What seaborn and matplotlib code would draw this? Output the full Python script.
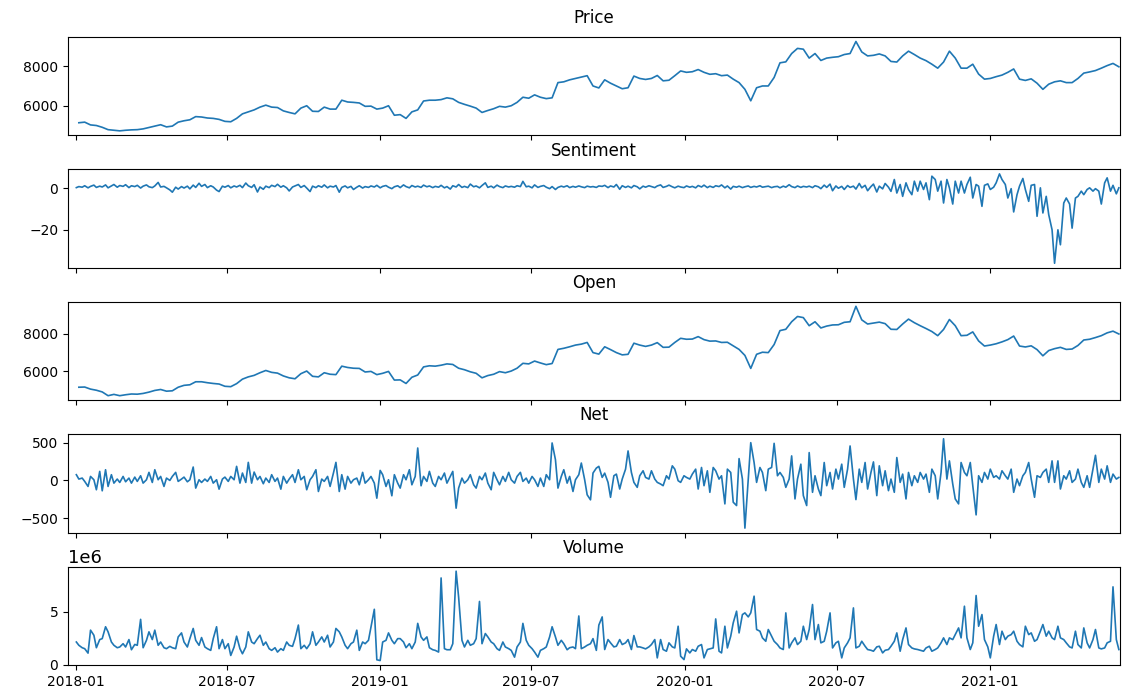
import numpy as np
import pandas as pd
import matplotlib
matplotlib.use("Agg")
import matplotlib.pyplot as plt
import matplotlib.dates as mdates
import seaborn as sns

# Weekly closing values (Fridays)
weekly_dates = pd.date_range("2018-01-05", "2021-06-04", freq="W-FRI")

price = [
    5140, 5170, 5030, 5000, 4910, 4790, 4760, 4730, 4760, 4780,
    4790, 4830, 4900, 4970, 5040, 4930, 4970, 5170, 5240, 5290,
    5450, 5430, 5380, 5360, 5310, 5210, 5190, 5360, 5590, 5690,
    5790, 5930, 6030, 5930, 5910, 5740, 5660, 5590, 5880, 6000,
    5720, 5710, 5930, 5830, 5830, 6280, 6190, 6170, 6140, 5970,
    5980, 5830, 5880, 6000, 5520, 5550, 5360, 5690, 5790, 6240,
    6280, 6280, 6310, 6400, 6350, 6170, 6070, 5980, 5880, 5660,
    5760, 5850, 5970, 5930, 6000, 6170, 6430, 6380, 6550, 6430,
    6360, 6400, 7170, 7210, 7310, 7380, 7450, 7520, 7000, 6900,
    7310, 7140, 7000, 6860, 6910, 7500, 7380, 7330, 7380, 7530,
    7260, 7290, 7520, 7760, 7690, 7720, 7830, 7690, 7590, 7620,
    7520, 7550, 7345, 7170, 6830, 6250, 6910, 7000, 7000, 7430,
    8170, 8220, 8640, 8900, 8860, 8410, 8640, 8290, 8410, 8450,
    8480, 8590, 8640, 9250, 8720, 8520, 8550, 8620, 8520, 8240,
    8210, 8520, 8760, 8590, 8410, 8280, 8100, 7900, 8210, 8760,
    8410, 7900, 7900, 8100, 7600, 7345, 7380, 7470, 7550, 7690,
    7860, 7345, 7280, 7360, 7140, 6830, 7090, 7210, 7260, 7170,
    7170, 7380, 7650, 7710, 7780, 7900, 8030, 8140, 7970,
]

open_ = [
    5150, 5160, 5050, 4990, 4900, 4700, 4770, 4700, 4750, 4790,
    4780, 4820, 4890, 4980, 5030, 4940, 4960, 5150, 5250, 5280,
    5440, 5440, 5390, 5350, 5320, 5200, 5180, 5340, 5580, 5700,
    5780, 5920, 6040, 5940, 5900, 5750, 5650, 5600, 5870, 6010,
    5730, 5700, 5920, 5840, 5820, 6270, 6200, 6160, 6150, 5960,
    5990, 5820, 5890, 5990, 5530, 5540, 5350, 5680, 5800, 6230,
    6290, 6270, 6320, 6390, 6360, 6160, 6080, 5970, 5890, 5650,
    5770, 5840, 5980, 5920, 6010, 6160, 6420, 6390, 6540, 6440,
    6350, 6410, 7160, 7220, 7300, 7390, 7440, 7530, 6990, 6910,
    7300, 7150, 6990, 6870, 6900, 7490, 7390, 7320, 7390, 7520,
    7270, 7280, 7530, 7750, 7700, 7710, 7840, 7680, 7600, 7610,
    7530, 7540, 7350, 7160, 6840, 6150, 6900, 7010, 6990, 7420,
    8160, 8230, 8630, 8910, 8850, 8420, 8630, 8300, 8400, 8460,
    8470, 8600, 8630, 9450, 8730, 8510, 8560, 8610, 8530, 8230,
    8220, 8510, 8770, 8580, 8420, 8270, 8110, 7890, 8220, 8750,
    8420, 7890, 7910, 8090, 7610, 7340, 7390, 7460, 7560, 7680,
    7870, 7340, 7290, 7350, 7150, 6820, 7100, 7200, 7270, 7160,
    7180, 7370, 7660, 7700, 7790, 7890, 8040, 8130, 7980,
]

# Twice-weekly observations (Tuesdays and Fridays)
halfweek_dates = pd.date_range("2018-01-02", "2021-06-04", freq="W-TUE").union(
    pd.date_range("2018-01-02", "2021-06-04", freq="W-FRI"))

sentiment = [
    0.3, 0.8, 0.5, 1.2, 0.2, 0.9, 1.5, 0.4, 1.0, 0.6,
    1.6, 0.2, 1.1, 1.8, 0.5, 1.3, 0.9, 1.7, 0.3, 1.2,
    0.8, 1.4, 0.1, 1.0, 1.6, 0.7, 0.3, 1.1, 2.8, 0.6,
    0.9, 0.2, -0.8, -1.9, 0.5, -0.4, 0.8, 0.1, 1.0, -0.3,
    1.5, 0.4, 2.4, 0.9, 1.8, 0.3, 1.2, 0.6, -0.9, -1.6,
    1.0, 0.5, 1.3, 0.2, 1.1, 0.6, 1.4, 0.3, 2.5, 1.2,
    0.4, 1.7, -1.8, 0.6, -0.5, 1.0, 0.3, 1.4, 0.8, 1.9,
    0.5, 1.2, 0.2, -1.3, 0.6, 1.1, 1.8, 0.4, 1.3, 0.1,
    -1.6, 1.0, 0.3, 1.2, 0.5, 1.6, 0.2, 1.0, 0.6, 1.3,
    -1.9, 0.4, 1.1, 0.2, 0.9, -0.6, 0.5, 1.2, 0.1, 0.8,
    0.4, 1.1, 0.6, 1.4, 0.2, 0.9, 1.3, 0.5, -0.2, 0.7,
    1.2, 0.3, 1.6, 0.8, 0.2, 1.3, 0.6, 1.0, 0.4, 1.5,
    0.7, 1.1, 0.3, 0.9, 0.5, 1.4, 0.2, 0.8, -0.4, 1.2,
    0.6, 1.8, 0.4, 0.9, 0.3, 2.0, 0.7, 1.1, 0.2, 1.3,
    2.6, 0.4, 1.0, 0.2, 1.5, 0.8, 0.3, 1.1, 0.6, 0.9,
    0.5, 1.2, 0.8, 3.3, 0.7, 1.0, 0.2, 1.6, 0.4, 0.9,
    1.3, 0.5, -0.2, 0.8, -0.6, 0.4, 1.0, 0.6, 1.2, 0.3,
    0.9, 0.5, 1.1, 0.7, 0.3, 1.0, 0.6, 0.8, 0.4, 1.1,
    0.9, 1.4, 0.3, 1.1, 0.6, 1.8, -0.5, 1.2, 0.4, 1.0,
    0.2, 1.3, 0.7, -0.3, 1.0, 0.5, 1.2, 0.8, 0.3, 1.1,
    1.6, 0.4, 0.9, 1.5, 0.7, 0.2, 1.0, 0.6, 0.3, 1.1,
    0.5, 0.9, 0.2, 1.3, 0.6, 1.5, 0.3, 1.0, 0.4, 1.2,
    0.8, 1.6, 0.2, 1.1, -0.4, 0.9, 0.5, 1.0, 0.3, 0.7,
    1.1, 0.4, 0.9, 0.6, 1.2, 0.5, 0.8, 1.0, 0.3, 0.7,
    0.9, 0.2, 1.0, 0.5, 1.7, 0.8, 0.3, 1.1, 0.4, 0.9,
    0.6, 1.0, 0.3, 1.2, 0.7, -0.2, 1.5, 0.4, 2.0, -1.2,
    1.1, 0.0, 0.9, -0.6, 1.3, 0.4, 1.0, -0.4, 2.3, 0.2,
    1.4, -1.2, 0.8, 2.0, -1.8, 1.0, -0.3, 2.3, 0.5, -1.5,
    4.2, -2.3, 1.8, -3.9, 2.6, -0.6, -3.1, 3.4, -1.4, 3.4,
    -0.6, 2.6, -5.5, 5.8, 4.2, -1.4, 3.4, -7.1, 4.2, 0.2,
    -7.6, 3.4, -2.3, 3.4, -2.3, 1.8, 5.3, -4.7, 1.8, 1.0,
    -8.7, 1.4, 2.1, -0.6, 0.5, 2.6, 6.9, 4.2, 1.8, -4.7,
    -0.2, -11.4, -3.1, 1.0, 4.7, -0.6, -6.3, 1.4, 1.8, -13.5,
    0.2, -11.9, -3.9, -12.7, -20.0, -36.1, -20.0, -27.2, -7.1, -4.7,
    -7.6, -19.2, -4.7, -3.9, -1.4, -3.1, -0.6, 0.2, -1.4, -0.2,
    -1.4, -7.6, 2.6, 5.0, -1.4, 1.4, -2.7, 0.2,
]

net = [
    76, 18, 31, -13, -80, 53, 9, -124, 120, -138,
    142, -80, 76, -36, 18, -27, 53, -18, 31, -36,
    44, -13, 62, -36, 9, 107, -27, 142, 9, 53,
    -80, 31, 0, 53, 107, -13, 18, 44, -18, 9,
    178, -102, 9, -27, 18, -13, 53, -36, 9, -116,
    18, 44, -13, 53, 9, 187, -36, 98, -27, 240,
    -36, 111, 9, 53, -44, 31, -27, 76, -13, 31,
    -116, 53, -36, 18, 76, -27, 142, 9, 53, -124,
    9, 53, 142, -147, 18, -13, 53, -80, 98, 240,
    -147, 76, -116, 53, -36, 9, 31, -58, 107, -36,
    9, 53, -36, -236, 133, 76, -80, 9, -204, 76,
    -36, -102, 76, 9, 142, -58, 53, 431, -71, 53,
    -13, 120, -36, -80, 53, 9, 98, -36, 53, 120,
    -369, -102, 31, -36, 9, 76, -58, -102, 53, 9,
    98, -36, -124, 107, 9, -58, 53, -13, 107, 9,
    -36, 53, 107, -13, 31, -36, 53, 9, -80, 31,
    -80, 76, 9, 498, 276, -102, 53, 142, -36, 53,
    -147, 9, 76, 231, 9, -191, -258, 98, 164, 187,
    40, 97, -26, -224, 62, 84, -114, 18, 150, 392,
    106, -26, -92, 62, 128, 40, 18, 128, 18, -26,
    -48, -70, 62, 18, 194, 150, -4, -26, 62, 40,
    18, 84, 150, -114, 172, -70, 128, -158, 172, 128,
    18, 62, -312, 150, 106, -290, -334, 290, 18, -634,
    18, 502, 238, -26, 172, 106, -136, 150, 172, 493,
    62, 106, 40, -92, 18, 326, -246, 18, 216, -202,
    -334, 370, -158, 62, -114, -202, 238, -70, 106, -114,
    150, 18, 216, -92, 150, 458, 18, -255, 150, -26,
    238, -114, 106, 246, -202, 194, -70, 128, -136, 18,
    -158, 304, -26, 84, -246, 106, -70, 62, -26, 106,
    18, 84, -158, 150, 62, -246, 106, 554, 18, 260,
    -48, -246, -312, 238, 106, 62, 238, -70, -458, 62,
    -26, 106, 18, 150, 40, 62, 18, 128, 62, 18,
    150, -158, 18, -70, 62, 106, 238, 18, -224, 62,
    40, 106, 150, -26, 260, -26, 260, -114, 62, 18,
    128, -26, 18, 150, -26, -92, 62, -92, 150, 334,
    -26, 150, 18, 194, -26, 84, 18, 40,
]

# Volume in millions of shares
volume_m = [
    2.13, 1.82, 1.59, 1.50, 1.08, 3.25, 2.77, 1.59, 2.36, 2.45,
    3.57, 3.09, 2.13, 1.82, 1.59, 1.66, 1.97, 1.66, 2.36, 1.40,
    1.90, 1.82, 4.27, 1.59, 2.29, 3.09, 2.36, 3.25, 1.82, 2.13,
    1.59, 1.50, 1.72, 1.59, 1.50, 2.61, 2.99, 2.13, 1.66, 2.45,
    3.41, 2.29, 1.82, 2.55, 1.66, 1.50, 1.34, 2.45, 3.57, 1.50,
    2.36, 1.50, 1.97, 0.86, 1.66, 2.68, 1.50, 1.02, 1.66, 3.09,
    2.13, 1.97, 2.45, 2.77, 1.82, 2.13, 1.50, 1.34, 1.59, 1.18,
    1.50, 1.34, 2.13, 1.82, 1.72, 2.45, 3.73, 1.50, 1.82, 1.50,
    1.97, 3.09, 1.82, 2.13, 2.61, 2.13, 2.77, 1.66, 2.13, 3.41,
    3.09, 2.61, 1.82, 1.50, 1.97, 2.13, 3.25, 1.34, 2.13, 1.97,
    2.29, 3.57, 5.22, 0.45, 0.38, 2.13, 2.29, 2.99, 2.29, 1.97,
    2.45, 2.45, 2.13, 1.59, 1.97, 1.50, 2.13, 3.89, 2.61, 2.29,
    2.61, 1.59, 1.40, 1.34, 1.18, 8.18, 1.50, 1.40, 1.40, 1.97,
    8.82, 6.37, 2.29, 1.66, 2.29, 1.82, 1.97, 2.45, 5.96, 1.97,
    2.93, 2.61, 2.13, 1.97, 1.50, 1.34, 2.13, 1.66, 1.50, 1.34,
    0.70, 1.66, 2.13, 3.89, 2.29, 1.82, 1.50, 1.18, 0.70, 1.34,
    1.50, 1.66, 2.61, 3.57, 2.61, 1.82, 2.29, 1.97, 1.40, 1.59,
    1.66, 1.50, 4.59, 1.50, 1.66, 1.82, 1.97, 2.45, 1.34, 3.73,
    4.50, 1.42, 2.36, 2.05, 1.67, 1.73, 2.36, 1.89, 2.05, 2.36,
    1.42, 2.74, 1.67, 1.67, 1.57, 1.48, 1.67, 1.89, 2.36, 0.63,
    2.36, 1.42, 1.26, 2.05, 1.67, 1.57, 3.62, 0.79, 0.47, 1.48,
    1.10, 1.42, 1.26, 1.73, 1.89, 0.63, 1.42, 1.48, 1.57, 4.31,
    1.26, 1.10, 3.62, 1.57, 2.68, 3.94, 5.04, 2.99, 4.72, 4.88,
    4.50, 4.88, 6.46, 3.31, 3.15, 2.52, 2.20, 3.31, 2.68, 2.20,
    1.89, 1.57, 1.42, 4.88, 1.57, 2.05, 2.52, 1.89, 2.20, 3.62,
    2.36, 3.31, 5.67, 2.36, 3.78, 2.05, 2.20, 3.15, 4.88, 1.57,
    2.05, 2.20, 0.63, 1.57, 2.05, 2.52, 5.35, 1.57, 1.73, 2.20,
    1.73, 1.42, 1.35, 1.26, 1.67, 1.73, 1.10, 1.35, 1.42, 1.73,
    2.20, 2.99, 1.26, 2.36, 3.46, 1.89, 1.57, 1.48, 1.42, 1.35,
    1.26, 1.57, 1.73, 1.26, 1.42, 1.57, 2.05, 2.52, 1.89, 2.52,
    2.36, 2.83, 3.46, 2.52, 5.51, 2.52, 1.42, 2.05, 6.52, 3.62,
    4.72, 2.36, 1.67, 0.63, 2.68, 3.78, 1.89, 3.15, 2.36, 2.68,
    2.83, 3.15, 2.20, 1.89, 1.67, 3.62, 2.83, 2.99, 2.20, 2.36,
    3.15, 3.78, 2.68, 3.15, 2.52, 2.36, 3.62, 2.52, 2.36, 2.05,
    1.67, 1.57, 3.15, 1.89, 1.57, 3.46, 2.05, 1.57, 2.36, 3.31,
    1.57, 1.48, 1.57, 2.05, 2.20, 7.34, 2.36, 1.42,
]

panels = [
    ("Price", weekly_dates, np.array(price, dtype=float)),
    ("Sentiment", halfweek_dates, np.array(sentiment, dtype=float)),
    ("Open", weekly_dates, np.array(open_, dtype=float)),
    ("Net", halfweek_dates, np.array(net, dtype=float)),
    ("Volume", halfweek_dates, np.array(volume_m, dtype=float) * 1e6),
]

fig, axes = plt.subplots(5, 1, sharex=True, figsize=(11.24, 6.97), dpi=100)
fig.subplots_adjust(left=0.0605, right=0.9964, top=0.9469, bottom=0.0459,
                    hspace=0.347)

for ax, (title, dates, values) in zip(axes, panels):
    frame = pd.DataFrame({"date": dates, "value": values})
    sns.lineplot(data=frame, x="date", y="value", ax=ax, color="#1f77b4",
                 linewidth=1.2)
    ax.set_title(title, pad=10)
    ax.set_xlabel("")
    ax.set_ylabel("")

axes[-1].xaxis.set_major_locator(mdates.MonthLocator(bymonth=(1, 7)))
axes[-1].xaxis.set_major_formatter(mdates.DateFormatter("%Y-%m"))
axes[-1].set_xlim(pd.Timestamp("2017-12-23"), pd.Timestamp("2021-06-05 08:00"))
axes[-1].yaxis.get_offset_text().set_fontsize(13)

fig.savefig("out.png", dpi=100)
